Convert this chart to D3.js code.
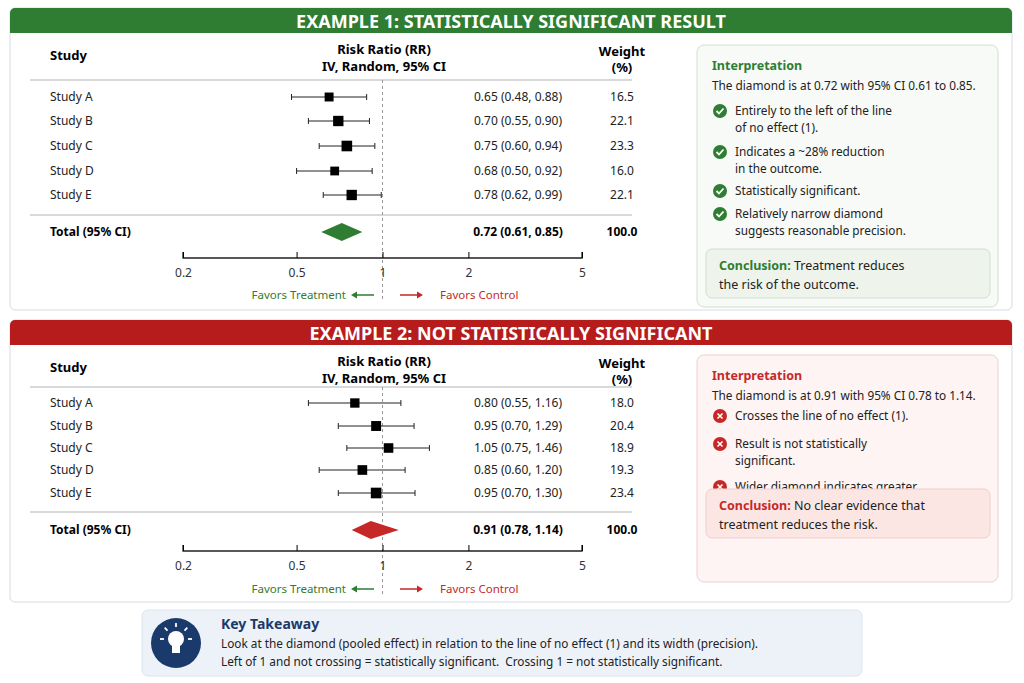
<!DOCTYPE html>
<html><head><meta charset="utf-8">
<script src="https://cdn.jsdelivr.net/npm/d3@7"></script>
<style>body{margin:0;background:#fff}svg{font-family:"Noto Sans",sans-serif}</style>
</head><body><svg id="c" width="1024" height="683"></svg>
<script>
const studies = ["Study A", "Study B", "Study C", "Study D", "Study E"];
const rr1 = [0.65, 0.70, 0.75, 0.68, 0.78];
const lo1 = [0.48, 0.55, 0.60, 0.50, 0.62];
const hi1 = [0.88, 0.90, 0.94, 0.92, 0.99];
const w1 = [16.5, 22.1, 23.3, 16.0, 22.1];
const total1 = [0.72, 0.61, 0.85];
const rr2 = [0.80, 0.95, 1.05, 0.85, 0.95];
const lo2 = [0.55, 0.70, 0.75, 0.60, 0.70];
const hi2 = [1.16, 1.29, 1.46, 1.20, 1.30];
const w2 = [18.0, 20.4, 18.9, 19.3, 23.4];
const total2 = [0.91, 0.78, 1.14];
const ticks = [0.2, 0.5, 1, 2, 5];

const svg = d3.select("#c");
const x = d3.scaleLog().domain([0.2, 5]).range([183, 582]);
const sz = d3.scaleSqrt().domain([0, 25]).range([0, 11]);
const f2 = d3.format(".2f");

function panel(o) {
  const g = svg.append("g").attr("transform", `translate(0,${o.y})`);
  g.append("rect").attr("x", 10).attr("y", 0).attr("width", 1002).attr("height", o.h)
    .attr("rx", 5).attr("fill", "#fff").attr("stroke", "#d5dbe3");
  g.append("path").attr("d", "M10,25V5a5,5 0 0 1 5,-5H1007a5,5 0 0 1 5,5V25Z").attr("fill", o.col);
  g.append("text").attr("x", 511).attr("y", 19.5).attr("text-anchor", "middle").attr("fill", "#fff")
    .attr("font-size", 18).attr("font-weight", 700).text(o.title);
  const rowsY = o.rows;
  g.append("text").attr("x", 50).attr("y", 52).attr("font-size", 13).attr("font-weight", 700).text("Study");
  g.append("text").attr("x", 384).attr("y", 46).attr("text-anchor", "middle").attr("font-size", 13).attr("font-weight", 700).text("Risk Ratio (RR)");
  g.append("text").attr("x", 384).attr("y", 63).attr("text-anchor", "middle").attr("font-size", 13).attr("font-weight", 700).text("IV, Random, 95% CI");
  g.append("text").attr("x", 622).attr("y", 48).attr("text-anchor", "middle").attr("font-size", 13).attr("font-weight", 700).text("Weight");
  g.append("text").attr("x", 622).attr("y", 64).attr("text-anchor", "middle").attr("font-size", 13).attr("font-weight", 700).text("(%)");
  g.append("line").attr("x1", 30).attr("x2", 632).attr("y1", o.l1).attr("y2", o.l1).attr("stroke", "#ccc").attr("stroke-width", 1.5);
  g.append("line").attr("x1", 30).attr("x2", 632).attr("y1", o.l2).attr("y2", o.l2).attr("stroke", "#ccc").attr("stroke-width", 1.5);
  g.append("line").attr("x1", x(1)).attr("x2", x(1)).attr("y1", o.l1).attr("y2", o.fav + 5)
    .attr("stroke", "#999").attr("stroke-dasharray", "3,3");
  studies.forEach((s, i) => {
    const y = rowsY[i];
    g.append("text").attr("x", 50).attr("y", y + 4).attr("font-size", 12).attr("fill", "#222").text(s);
    g.append("line").attr("x1", x(o.lo[i])).attr("x2", x(o.hi[i])).attr("y1", y).attr("y2", y).attr("stroke", "#222");
    [o.lo[i], o.hi[i]].forEach(v => g.append("line").attr("x1", x(v)).attr("x2", x(v)).attr("y1", y - 3).attr("y2", y + 3).attr("stroke", "#222"));
    const s2 = sz(o.w[i]);
    g.append("rect").attr("x", x(o.rr[i]) - s2 / 2).attr("y", y - s2 / 2).attr("width", s2).attr("height", s2).attr("fill", "#000");
    g.append("text").attr("x", 518).attr("y", y + 4).attr("text-anchor", "middle").attr("font-size", 12).attr("fill", "#222")
      .text(`${f2(o.rr[i])} (${f2(o.lo[i])}, ${f2(o.hi[i])})`);
    g.append("text").attr("x", 622).attr("y", y + 4).attr("text-anchor", "middle").attr("font-size", 12).attr("fill", "#222").text(o.w[i].toFixed(1));
  });
  const ty = o.tot, t = o.total;
  g.append("text").attr("x", 50).attr("y", ty + 4).attr("font-size", 12).attr("font-weight", 700).text("Total (95% CI)");
  g.append("path").attr("d", `M${x(t[1])},${ty}L${x(t[0])},${ty - 9}L${x(t[2])},${ty}L${x(t[0])},${ty + 9}Z`).attr("fill", o.dcol);
  g.append("text").attr("x", 518).attr("y", ty + 4).attr("text-anchor", "middle").attr("font-size", 12).attr("font-weight", 700)
    .text(`${f2(t[0])} (${f2(t[1])}, ${f2(t[2])})`);
  g.append("text").attr("x", 622).attr("y", ty + 4).attr("text-anchor", "middle").attr("font-size", 12).attr("font-weight", 700).text("100.0");
  const ax = g.append("g").attr("transform", `translate(0,${o.axis})`)
    .call(d3.axisBottom(x).tickValues(ticks).tickFormat(d => d).tickSize(-6).tickPadding(10));
  ax.select(".domain").attr("d", `M${x(0.2)},-6V0H${x(5)}V-6`).attr("stroke", "#222").attr("stroke-width", 1.3);
  ax.selectAll("text").attr("font-size", 12).attr("fill", "#333").attr("font-family", "Noto Sans");
  g.append("text").attr("x", 346).attr("y", o.fav + 4).attr("text-anchor", "end").attr("font-size", 11.5).attr("fill", "#2e7d32").text("Favors Treatment");
  g.append("path").attr("d", `M357,${o.fav - 3.5}L351,${o.fav}L357,${o.fav + 3.5}Z`).attr("fill", "#2e7d32");
  g.append("line").attr("x1", 355).attr("x2", 374).attr("y1", o.fav).attr("y2", o.fav).attr("stroke", "#2e7d32").attr("stroke-width", 1.5);
  g.append("line").attr("x1", 400).attr("x2", 419).attr("y1", o.fav).attr("y2", o.fav).attr("stroke", "#c62828").attr("stroke-width", 1.5);
  g.append("path").attr("d", `M417,${o.fav - 3.5}L423,${o.fav}L417,${o.fav + 3.5}Z`).attr("fill", "#c62828");
  g.append("text").attr("x", 440).attr("y", o.fav + 4).attr("font-size", 11.5).attr("fill", "#c62828").text("Favors Control");

  // interpretation box
  const b = o.box;
  g.append("rect").attr("x", 697).attr("y", b.y).attr("width", 301).attr("height", b.h).attr("rx", 7)
    .attr("fill", b.bg).attr("stroke", b.stroke);
  g.append("text").attr("x", 712).attr("y", b.y + 25).attr("font-size", 12.5).attr("font-weight", 700).attr("fill", o.tcol).text("Interpretation");
  g.append("text").attr("x", 712).attr("y", b.y + 45).attr("font-size", 11.8).attr("fill", "#222").text(b.lead);
  b.items.forEach(it => {
    const cy = b.y + it.y;
    g.append("circle").attr("cx", 720).attr("cy", cy - 4).attr("r", 7).attr("fill", o.icol);
    if (b.check) g.append("path").attr("d", `M716.5,${cy - 4}l2.5,2.5l4.5,-5`).attr("stroke", "#fff").attr("stroke-width", 1.8).attr("fill", "none");
    else g.append("path").attr("d", `M717.5,${cy - 6.5}l5,5M722.5,${cy - 6.5}l-5,5`).attr("stroke", "#fff").attr("stroke-width", 1.6);
    it.lines.forEach((l, j) => g.append("text").attr("x", 735).attr("y", cy + j * 17).attr("font-size", 11.8).attr("fill", "#222").text(l));
  });
  g.append("rect").attr("x", 706).attr("y", b.cy).attr("width", 284).attr("height", 49).attr("rx", 6)
    .attr("fill", b.cbg).attr("stroke", b.stroke);
  const c1 = g.append("text").attr("x", 719).attr("y", b.cy + 21).attr("font-size", 12.5).attr("fill", "#222");
  c1.append("tspan").attr("font-weight", 700).attr("fill", o.tcol).text("Conclusion: ");
  c1.append("tspan").text(b.c[0]);
  g.append("text").attr("x", 719).attr("y", b.cy + 40).attr("font-size", 12.5).attr("fill", "#222").text(b.c[1]);
}

panel({ y: 8, h: 302, col: "#2e7d32", dcol: "#2e7d32", tcol: "#2e7d32", icol: "#2e7d32",
  title: "EXAMPLE 1: STATISTICALLY SIGNIFICANT RESULT",
  rows: [89, 113, 138, 163, 187], l1: 72, l2: 207, tot: 224, axis: 250, fav: 287,
  rr: rr1, lo: lo1, hi: hi1, w: w1, total: total1,
  box: { y: 37, h: 262, bg: "#f7faf6", cbg: "#eef4ec", stroke: "#cfe0cc", check: true,
    lead: "The diamond is at 0.72 with 95% CI 0.61 to 0.85.",
    items: [{ y: 70, lines: ["Entirely to the left of the line", "of no effect (1)."] },
      { y: 111, lines: ["Indicates a ~28% reduction", "in the outcome."] },
      { y: 150, lines: ["Statistically significant."] },
      { y: 173, lines: ["Relatively narrow diamond", "suggests reasonable precision."] }],
    cy: 241, c: ["Treatment reduces", "the risk of the outcome."] } });

panel({ y: 320, h: 282, col: "#b71c1c", dcol: "#c62828", tcol: "#c62828", icol: "#c62828",
  title: "EXAMPLE 2: NOT STATISTICALLY SIGNIFICANT",
  rows: [83, 106, 128, 150, 173], l1: 67, l2: 192, tot: 210, axis: 231, fav: 269,
  rr: rr2, lo: lo2, hi: hi2, w: w2, total: total2,
  box: { y: 35, h: 227, bg: "#fdf4f3", cbg: "#fbe6e4", stroke: "#f0cfcb", check: false,
    lead: "The diamond is at 0.91 with 95% CI 0.78 to 1.14.",
    items: [{ y: 65, lines: ["Crosses the line of no effect (1)."] },
      { y: 93, lines: ["Result is not statistically", "significant."] },
      { y: 136, lines: ["Wider diamond indicates greater", "uncertainty about the true effect."] }],
    cy: 169, c: ["No clear evidence that", "treatment reduces the risk."] } });

// key takeaway
const k = svg.append("g");
k.append("rect").attr("x", 142).attr("y", 610).attr("width", 720).attr("height", 66).attr("rx", 6).attr("fill", "#edf2f9").attr("stroke", "#dde4ee");
k.append("circle").attr("cx", 176).attr("cy", 643).attr("r", 25).attr("fill", "#1a3a6b");
k.append("circle").attr("cx", 176).attr("cy", 639).attr("r", 8).attr("fill", "#fff");
k.append("rect").attr("x", 172).attr("y", 645).attr("width", 8).attr("height", 8).attr("fill", "#fff");
[-90, -45, 0, -135, 180].forEach(a => {
  const r = a * Math.PI / 180;
  k.append("line").attr("x1", 176 + 12 * Math.cos(r)).attr("y1", 639 + 12 * Math.sin(r))
    .attr("x2", 176 + 16 * Math.cos(r)).attr("y2", 639 + 16 * Math.sin(r)).attr("stroke", "#fff").attr("stroke-width", 1.8);
});
k.append("text").attr("x", 221).attr("y", 629).attr("font-size", 14).attr("font-weight", 700).attr("fill", "#1a3a6b").text("Key Takeaway");
k.append("text").attr("x", 221).attr("y", 648).attr("font-size", 11.8).attr("fill", "#222").text("Look at the diamond (pooled effect) in relation to the line of no effect (1) and its width (precision).");
k.append("text").attr("x", 221).attr("y", 666).attr("font-size", 11.8).attr("fill", "#222").attr("xml:space", "preserve").text("Left of 1 and not crossing = statistically significant.  Crossing 1 = not statistically significant.");
</script></body></html>
